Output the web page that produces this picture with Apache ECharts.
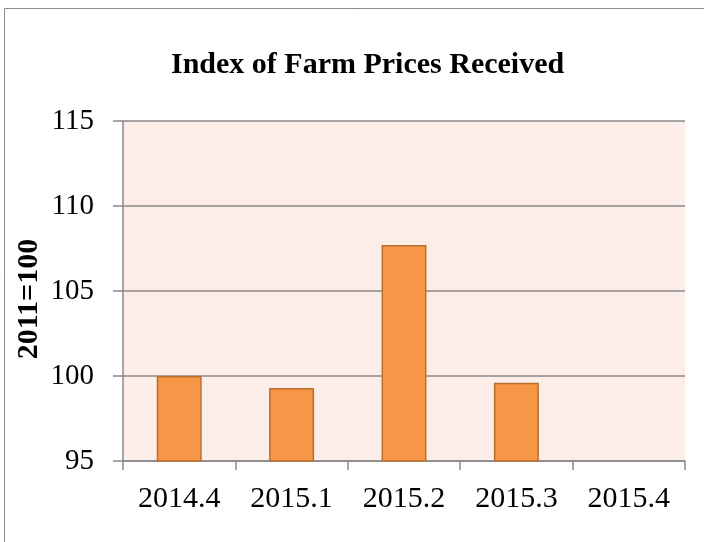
<!DOCTYPE html>
<html>
<head>
<meta charset="utf-8">
<script src="https://cdn.jsdelivr.net/npm/echarts@6/dist/echarts.min.js"></script>
<style>
  html, body { margin: 0; padding: 0; background: #ffffff; }
  #chart { width: 704px; height: 542px; }
</style>
</head>
<body>
<div id="chart"></div>
<script>
const quarters = ['2014.4', '2015.1', '2015.2', '2015.3', '2015.4']
const priceIndex = [100.0, 99.3, 107.7, 99.6, 95.0]
const yMin = 95
const yMax = 115
const yStep = 5

const chart = echarts.init(document.getElementById('chart'))

chart.setOption({
  animation: false,
  title: {
    text: 'Index of Farm Prices Received',
    left: 166,
    top: 45,
    textStyle: {
      fontFamily: 'Liberation Serif',
      fontWeight: 'bold',
      fontSize: 30,
      color: '#000'
    }
  },
  // outer chart-area frame, only its left and top edges are inside the picture
  graphic: [
    {
      type: 'rect',
      shape: { x: 4.5, y: 8.5, width: 900, height: 900 },
      style: { fill: 'none', stroke: '#8c8c8c', lineWidth: 1 },
      silent: true
    }
  ],
  grid: {
    left: 123,
    right: 19,
    top: 121,
    bottom: 81,
    show: true,
    backgroundColor: '#fcede8',
    borderWidth: 0
  },
  xAxis: {
    type: 'category',
    data: quarters,
    axisLine: { lineStyle: { color: '#898989', width: 1.5 } },
    axisTick: { show: true, length: 9, lineStyle: { color: '#898989', width: 1.5 } },
    axisLabel: {
      color: '#000',
      fontFamily: 'Liberation Serif',
      fontSize: 30,
      margin: 23
    }
  },
  yAxis: {
    type: 'value',
    min: yMin,
    max: yMax,
    interval: yStep,
    name: '2011=100',
    nameLocation: 'middle',
    nameGap: 79,
    nameMoveOverlap: false,
    nameTextStyle: {
      fontFamily: 'Liberation Serif',
      fontWeight: 'bold',
      fontSize: 30,
      color: '#000',
      padding: [0, 16, 0, 0]
    },
    axisLine: { show: true, lineStyle: { color: '#898989', width: 1.5 } },
    axisTick: { show: true, length: 10, lineStyle: { color: '#898989', width: 1.5 } },
    splitLine: { lineStyle: { color: '#898989', width: 1.5 } },
    axisLabel: {
      color: '#000',
      fontFamily: 'Liberation Serif',
      fontSize: 29,
      margin: 29
    }
  },
  series: [
    {
      type: 'bar',
      data: priceIndex,
      barWidth: '40%',
      itemStyle: {
        color: '#f79646',
        borderColor: '#b8702f',
        borderWidth: 1.5
      }
    }
  ]
})
</script>
</body>
</html>
